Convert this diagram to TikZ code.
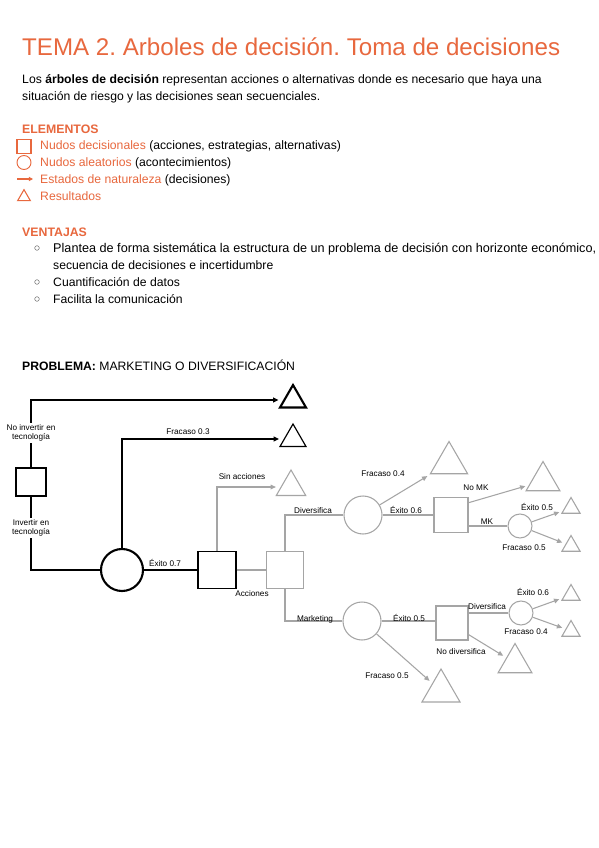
\documentclass[tikz,border=0pt]{standalone}
\usepackage{fontspec}
\setmainfont{Liberation Sans}
\usetikzlibrary{arrows.meta,shapes.geometric}
\definecolor{tema}{RGB}{232,104,62}
\definecolor{gris}{RGB}{165,165,165}
\frenchspacing

\tikzset{
  txt/.style={anchor=base west, inner sep=0pt},
  cuerpo/.style={txt, font=\fontsize{10.4}{12}\selectfont},
  dec/.style={draw, rectangle, inner sep=0pt},
  ale/.style={draw, circle, inner sep=0pt, minimum size=#1},
  res/.style={draw, regular polygon, regular polygon sides=3, inner sep=0pt, minimum size=#1},
  lbl/.style={font=\fontsize{7}{8}\selectfont, inner sep=1pt},
  flecha/.style={-{Triangle[length=4.5pt,width=4pt]}},
  gruesa/.style={line width=1.8pt},
}

\begin{document}
\begin{tikzpicture}[x=0.03cm, y=-0.03cm]
\fill [white] (0,0) rectangle (599,848);
\useasboundingbox (0,0) rectangle (599,848);

% encabezado
\node (titulo) at (22,56) [txt, text=tema, font=\fontsize{20.6}{24}\selectfont] {TEMA 2. Arboles de decisión. Toma de decisiones};
\node (intro1) at (22,84) [cuerpo] {Los \textbf{árboles de decisión} representan acciones o alternativas donde es necesario que haya una};
\node (intro2) at (22,101) [cuerpo] {situación de riesgo y las decisiones sean secuenciales.};

% elementos
\node (elem) at (22,134) [txt, text=tema, font=\fontsize{10.5}{12}\selectfont\bfseries] {ELEMENTOS};
\node (lsq) at (24,146.5) [shape=rectangle, draw=tema, inner sep=0pt, line width=0.9pt, minimum width=0.42cm, minimum height=0.4cm] {};
\node (lci) at (24,162.5) [ale=0.42cm, tema, line width=0.8pt] {};
\coordinate (la1) at (17,179);
\coordinate (la2) at (33,179);
\draw [tema, line width=1pt, -{Triangle[length=3.5pt,width=3.5pt]}] (la1) -- (la2);
\node (ltr) at (24,197) [res=0.44cm, tema, line width=0.9pt] {};
\node (e1) at (40,150) [cuerpo] {\textcolor{tema}{Nudos decisionales} (acciones, estrategias, alternativas)};
\node (e2) at (40,167) [cuerpo] {\textcolor{tema}{Nudos aleatorios} (acontecimientos)};
\node (e3) at (40,184) [cuerpo] {\textcolor{tema}{Estados de naturaleza} (decisiones)};
\node (e4) at (40,201) [cuerpo] {\textcolor{tema}{Resultados}};

% ventajas
\node (vent) at (22,236) [txt, text=tema, font=\fontsize{10.5}{12}\selectfont\bfseries] {VENTAJAS};
\foreach \y in {248,282,299}
  \draw [gray, line width=0.5pt] (37,\y) circle (2.3);
\node (v1) at (53,252) [cuerpo, font=\fontsize{10.8}{12}\selectfont] {Plantea de forma sistemática la estructura de un problema de decisión con horizonte económico,};
\node (v1b) at (53,269) [cuerpo] {secuencia de decisiones e incertidumbre};
\node (v2) at (53,286) [cuerpo] {Cuantificación de datos};
\node (v3) at (53,303) [cuerpo] {Facilita la comunicación};

% problema
\node (prob) at (22,370) [cuerpo] {\textbf{PROBLEMA:} MARKETING O DIVERSIFICACIÓN};

% nodos del arbol
\node (b1) at (31,482) [dec, gruesa, minimum width=0.9cm, minimum height=0.84cm] {};
\node (c1) at (122,570) [ale=1.26cm, gruesa] {};
\node (b2) at (217,570) [dec, line width=1.1pt, minimum width=1.14cm, minimum height=1.11cm] {};
\node (t1) at (293,400) [res=0.9cm, gruesa] {};
\node (t2) at (293,439) [res=0.9cm, line width=1pt] {};

\begin{scope}[gris, line width=0.9pt]
\node (b3) at (285,570) [dec, minimum width=1.11cm, minimum height=1.11cm] {};
\node (c4) at (363,515) [ale=1.14cm] {};
\node (b5) at (451,515) [dec, minimum width=1.02cm, minimum height=1.05cm] {};
\node (cs1) at (520,526) [ale=0.72cm] {};
\node (c6) at (362,621) [ale=1.14cm] {};
\node (b7) at (452,623) [dec, minimum width=0.96cm, minimum height=1.02cm] {};
\node (cs2) at (521,613) [ale=0.72cm] {};

\node (t3) at (291,487) [res=1.02cm] {};
\node (t5) at (449,463) [res=1.29cm] {};
\node (tnomk) at (543,481) [res=1.17cm] {};
\node (te5) at (571,508) [res=0.63cm] {};
\node (tf5) at (571,546) [res=0.63cm] {};
\node (te6) at (571,595) [res=0.63cm] {};
\node (tf4) at (571,631) [res=0.63cm] {};
\node (tnodiv) at (515,663) [res=1.17cm] {};
\node (tfr) at (441,691) [res=1.32cm] {};
\end{scope}

% conectores negros
\draw [gruesa, flecha] (b1.north) |- ([xshift=-4pt]t1.west);
\draw [gruesa] (b1.south) |- (c1.west);
\draw [line width=1pt, flecha] (c1.north) |- ([xshift=-4pt]t2.west);
\draw [line width=1pt] (c1.east) -- (b2.west);

% conectores grises
\begin{scope}[gris, line width=0.9pt]
\draw [flecha] (b2.north) |- ([xshift=-4pt]t3.west);
\draw (b2.east) -- (b3.west);
\draw (b3.north) |- (c4.west);
\draw (b3.south) |- (c6.west);
\draw (c4.east) -- (b5.west);
\draw [flecha, shorten >=3pt] (c4) -- (t5);
\draw [flecha, shorten >=3pt] (b5.35) -- (tnomk);
\draw (cs1.west -| b5.east) -- (cs1.west);
\draw [flecha, shorten >=3pt] (cs1) -- (te5);
\draw [flecha, shorten >=3pt] (cs1) -- (tf5);
\draw (c6.east) -- (c6.east -| b7.west);
\draw [flecha, shorten >=3pt] (c6) -- (tfr);
\draw (cs2.west -| b7.east) -- (cs2.west);
\draw [flecha, shorten >=3pt] (b7.-35) -- (tnodiv);
\draw [flecha, shorten >=3pt] (cs2) -- (te6);
\draw [flecha, shorten >=3pt] (cs2) -- (tf4);
\end{scope}

% etiquetas
\node (l1) at (31,433) [lbl, fill=white, align=center] {No invertir en\\tecnología};
\node (l2) at (31,528) [lbl, fill=white, align=center] {Invertir en\\tecnología};
\node (l3) at (188,432) [lbl] {Fracaso 0.3};
\node (l4) at (165,563) [lbl] {Éxito 0.7};
\node (l5) at (242,477) [lbl] {Sin acciones};
\node (l6) at (252,594) [lbl] {Acciones};
\node (l7) at (313,511) [lbl] {Diversifica};
\node (l8) at (315,619) [lbl] {Marketing};
\node (l9) at (383,474) [lbl] {Fracaso 0.4};
\node (l10) at (406,510) [lbl] {Éxito 0.6};
\node (l11) at (476,488) [lbl] {No MK};
\node (l12) at (487,522) [lbl] {MK};
\node (l13) at (537,507) [lbl] {Éxito 0.5};
\node (l14) at (524,548) [lbl] {Fracaso 0.5};
\node (l15) at (409,618) [lbl] {Éxito 0.5};
\node (l16) at (487,607) [lbl] {Diversifica};
\node (l17) at (533,592) [lbl] {Éxito 0.6};
\node (l18) at (526,632) [lbl] {Fracaso 0.4};
\node (l19) at (461,652) [lbl] {No diversifica};
\node (l20) at (387,676) [lbl] {Fracaso 0.5};
\end{tikzpicture}
\end{document}
